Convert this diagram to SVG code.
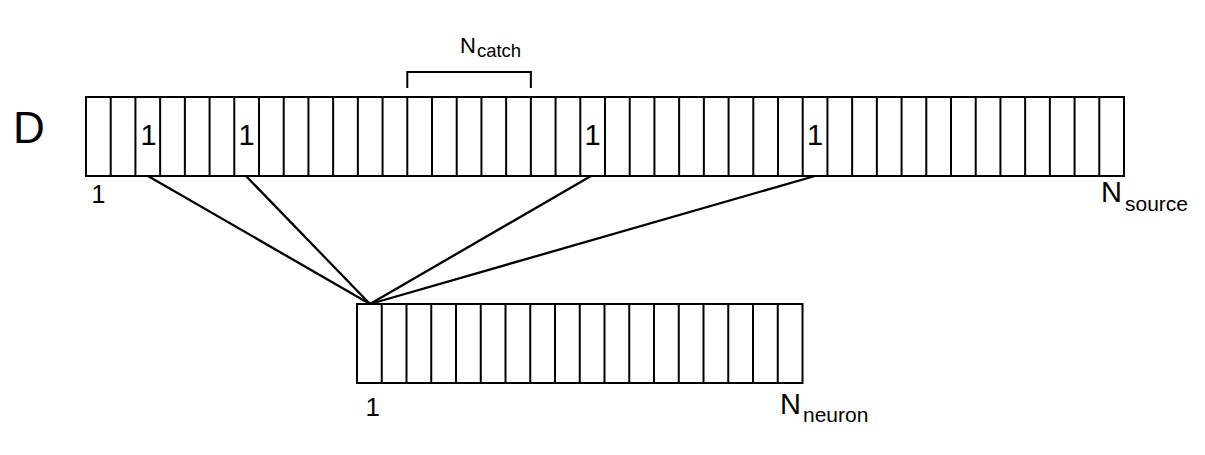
<svg xmlns="http://www.w3.org/2000/svg" width="1205" height="455" viewBox="0 0 1205 455">
<style>
.box{fill:#fff;stroke:#000;stroke-width:2}
.div{fill:none;stroke:#000;stroke-width:2}
.t{font-family:"Liberation Sans",Arial,sans-serif;fill:#000}
.c{stroke:#000;stroke-width:2.3;fill:none}
</style>
<rect width="1205" height="455" fill="#fff"/>
<g id="D-label"><text class="t" x="13" y="143" font-size="44">D</text></g>
<g id="source-array">
<rect class="box" x="86" y="97" width="1038" height="79"/>
<path class="div" d="M110.71 97V176M135.43 97V176M160.14 97V176M184.86 97V176M209.57 97V176M234.29 97V176M259 97V176M283.71 97V176M308.43 97V176M333.14 97V176M357.86 97V176M382.57 97V176M407.29 97V176M432 97V176M456.71 97V176M481.43 97V176M506.14 97V176M530.86 97V176M555.57 97V176M580.29 97V176M605 97V176M629.71 97V176M654.43 97V176M679.14 97V176M703.86 97V176M728.57 97V176M753.29 97V176M778 97V176M802.71 97V176M827.43 97V176M852.14 97V176M876.86 97V176M901.57 97V176M926.29 97V176M951 97V176M975.71 97V176M1000.43 97V176M1025.14 97V176M1049.86 97V176M1074.57 97V176M1099.29 97V176"/>
<text class="t" x="148.5" y="145" font-size="29" text-anchor="middle">1</text>
<text class="t" x="246.6" y="145" font-size="29" text-anchor="middle">1</text>
<text class="t" x="592.6" y="145" font-size="29" text-anchor="middle">1</text>
<text class="t" x="815" y="145" font-size="29" text-anchor="middle">1</text>
<text class="t" x="91.5" y="203" font-size="25">1</text>
<text class="t" x="1101" y="202" font-size="29">N<tspan font-size="21" dx="3" dy="9">source</tspan></text>
</g>
<g id="catch-bracket">
<path class="div" d="M407.29 88V72H530.86V88"/>
<text class="t" x="460" y="53" font-size="22">N<tspan font-size="18.5" dx="1" dy="3.5">catch</tspan></text>
</g>
<g id="neuron-array">
<rect class="box" x="357" y="304" width="445.5" height="79"/>
<path class="div" d="M381.75 304V383M406.5 304V383M431.25 304V383M456 304V383M480.75 304V383M505.5 304V383M530.25 304V383M555 304V383M579.75 304V383M604.5 304V383M629.25 304V383M654 304V383M678.75 304V383M703.5 304V383M728.25 304V383M753 304V383M777.75 304V383"/>
<text class="t" x="365.5" y="416" font-size="26">1</text>
<text class="t" x="780" y="414" font-size="29">N<tspan font-size="21" dx="2" dy="8">neuron</tspan></text>
</g>
<g id="connectors">
<line class="c" x1="148" y1="176" x2="370" y2="304"/>
<line class="c" x1="246" y1="176" x2="370" y2="304"/>
<line class="c" x1="591" y1="176" x2="370" y2="304"/>
<line class="c" x1="815" y1="176" x2="370" y2="304"/>
</g>
</svg>
